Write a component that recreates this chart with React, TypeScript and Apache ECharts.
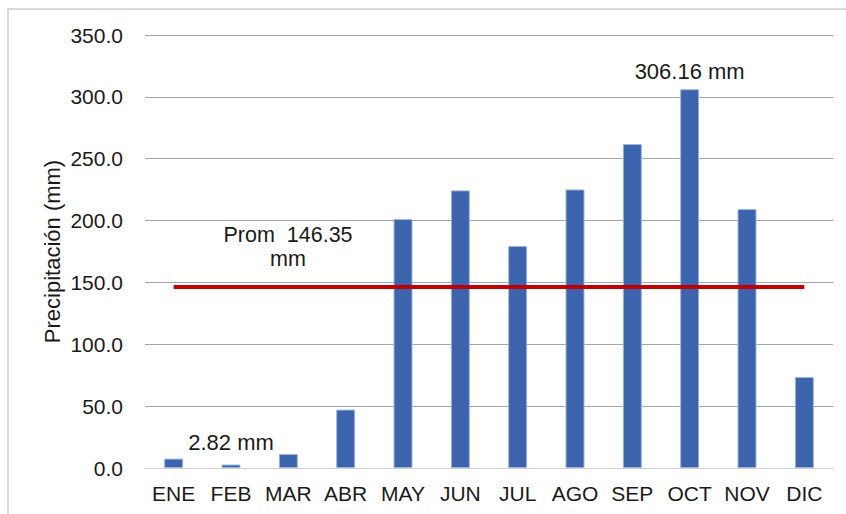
import React, { useEffect, useRef } from "react";
import * as echarts from "echarts";

const months = ["ENE", "FEB", "MAR", "ABR", "MAY", "JUN", "JUL", "AGO", "SEP", "OCT", "NOV", "DIC"];
const precip = [7.6, 2.82, 11.3, 47.2, 201.2, 224.4, 179.4, 225.2, 261.9, 306.16, 209.3, 73.6];
const average = 146.35;
const labelledMonths = ["FEB", "OCT"];
const yMin = 0;
const yMax = 350;
const yStep = 50;

export default function App() {
  const ref = useRef<HTMLDivElement>(null);
  useEffect(() => {
    document.body.style.margin = "0";
    const chart = echarts.init(ref.current!, null, { renderer: "svg" });
    const font = "Arial, 'Liberation Sans', sans-serif";
    const barData = precip.map((v, i) =>
      labelledMonths.includes(months[i])
        ? {
            value: v,
            label: {
              show: true,
              position: "top",
              distance: months[i] === "FEB" ? 11 : 7,
              formatter: "{c} mm",
              fontSize: 22,
              fontFamily: font,
              color: "#1a1a1a",
            },
          }
        : v
    );
    chart.setOption({
      animation: false,
      backgroundColor: "#ffffff",
      grid: { left: 145, right: 13, top: 35, bottom: 46 },
      xAxis: {
        type: "category",
        data: months,
        axisLine: { lineStyle: { color: "#d0d0d0", width: 1 } },
        axisTick: { show: false },
        axisLabel: { interval: 0, fontSize: 21, fontFamily: font, color: "#1a1a1a", margin: 15 },
      },
      yAxis: {
        type: "value",
        min: yMin,
        max: yMax,
        interval: yStep,
        name: "Precipitación (mm)",
        nameLocation: "middle",
        nameGap: 82,
        nameMoveOverlap: false,
        nameTextStyle: { fontSize: 22, fontFamily: font, color: "#1a1a1a" },
        axisLine: { show: false },
        axisTick: { show: false },
        axisLabel: {
          fontSize: 21,
          fontFamily: font,
          color: "#1a1a1a",
          margin: 22,
          formatter: (v: number) => v.toFixed(1),
        },
        splitLine: { lineStyle: { color: "#a6a6a6", width: 1 } },
      },
      series: [
        {
          type: "bar",
          data: barData,
          barWidth: 19,
          itemStyle: { color: "#3c64ad", borderColor: "#9fb4dc", borderWidth: 1 },
          z: 2,
        },
        {
          type: "line",
          data: months.map(() => average),
          symbol: "none",
          lineStyle: { color: "#c00000", width: 4 },
          z: 3,
        },
      ],
      graphic: [
        {
          type: "rect",
          shape: { x: 8, y: 9, width: 860, height: 530 },
          style: { fill: "none", stroke: "#d9d9d9", lineWidth: 2 },
          silent: true,
        },
        {
          type: "text",
          x: 288,
          y: 247,
          style: {
            text: "Prom  " + average.toFixed(2) + "\nmm",
            fontSize: 21.5,
            fontFamily: font,
            fill: "#1a1a1a",
            align: "center",
            verticalAlign: "middle",
            lineHeight: 24,
          },
        },
      ],
    });
    return () => chart.dispose();
  }, []);
  return <div ref={ref} style={{ width: 846, height: 514, position: "absolute", left: 0, top: 0 }} />;
}
